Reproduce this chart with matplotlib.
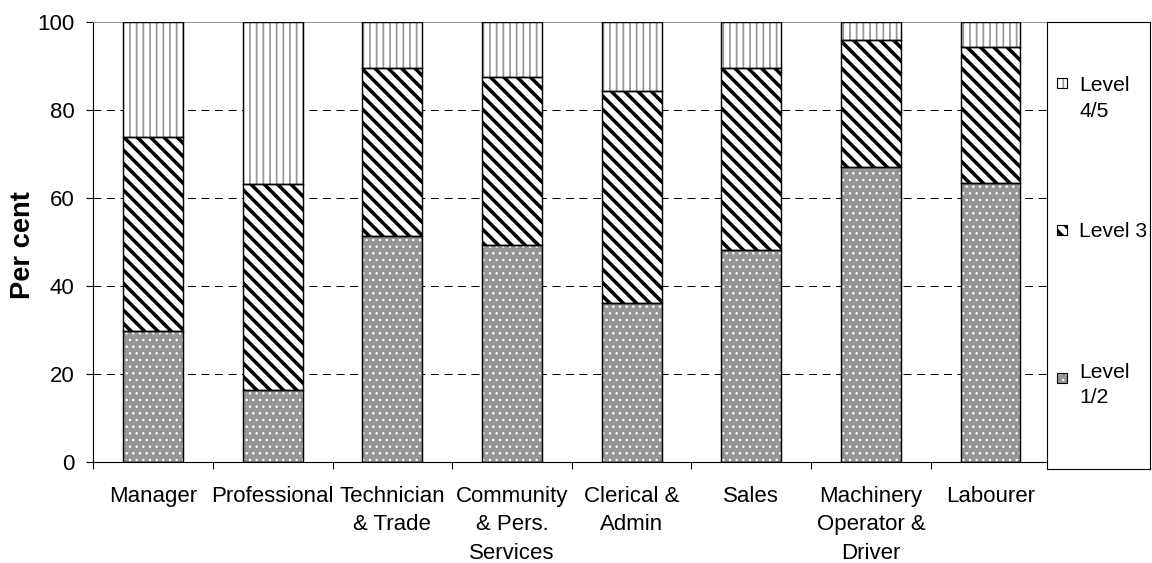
import numpy as np
import matplotlib
matplotlib.use("Agg")
import matplotlib.pyplot as plt
from matplotlib.patches import Rectangle

# =========================
# DADOS
# =========================
ocupacoes = ["Manager", "Professional", "Technician\n& Trade", "Community\n& Pers.\nServices",
             "Clerical &\nAdmin", "Sales", "Machinery\nOperator &\nDriver", "Labourer"]
nivel_12 = [29.7, 16.4, 51.4, 49.4, 36.1, 48.1, 67.0, 63.5]
nivel_3 = [44.2, 46.7, 38.1, 38.1, 48.2, 41.4, 29.0, 30.9]
nivel_45 = [26.1, 36.9, 10.5, 12.5, 15.7, 10.5, 4.0, 5.6]
rotulos = ["Level\n4/5", "Level 3", "Level\n1/2"]
yticks = [0, 20, 40, 60, 80, 100]

# =========================
# ESTILO
# =========================
plt.rcParams['font.family'] = ['Liberation Sans', 'DejaVu Sans']
DPI = 80
W, H = 1152, 563

fig = plt.figure(figsize=(W / DPI, H / DPI), dpi=DPI)
ax = fig.add_axes([93.3 / W, 1 - 462 / H, 957 / W, 440 / H])

x = np.arange(len(ocupacoes))
largura = 0.5

# (cor de fundo, hatch, cor do hatch, espessura do hatch)
estilos = [
    ("#969696", "..", "white", 1.0),
    ("white", "\\\\", "black", 3.2),
    ("white", "||", "#999999", 1.6),
]


def barras(eixo, xs, vals, base, estilo, w):
    cor, hatch, cor_hatch, lw_hatch = estilo
    with plt.rc_context({'hatch.linewidth': lw_hatch}):
        b = eixo.bar(xs, vals, w, bottom=base, color=cor, edgecolor=cor_hatch,
                     linewidth=0, hatch=hatch, zorder=2)
    for p in b:
        if hasattr(p, "set_hatch_linewidth"):
            p.set_hatch_linewidth(lw_hatch)
    eixo.bar(xs, vals, w, bottom=base, fill=False, edgecolor="black",
             linewidth=1.3, zorder=3)


base = np.zeros(len(x))
for vals, est in zip([nivel_12, nivel_3, nivel_45], estilos):
    barras(ax, x, vals, base, est, largura)
    base = base + np.array(vals)

# =========================
# EIXOS
# =========================
ax.set_xlim(-0.5, len(x) - 0.5)
ax.set_ylim(0, 100)
ax.set_yticks(yticks)
ax.set_yticklabels([str(v) for v in yticks])
ax.tick_params(axis="y", direction="out", length=6.3, width=1, pad=10.5, labelsize=20)

ax.set_xticks(np.arange(-0.5, len(x), 1))
ax.set_xticklabels([])
ax.tick_params(axis="x", which="major", direction="out", length=6, width=1)
ax.set_xticks(x, minor=True)
ax.set_xticklabels(ocupacoes, minor=True, fontsize=20, linespacing=1.47)
ax.tick_params(axis="x", which="minor", length=0, pad=21.5)

ax.yaxis.grid(True, linestyle=(0, (8, 5.5)), color="black", linewidth=0.9)
ax.set_axisbelow(True)
ax.get_ygridlines()[-1].set_visible(False)
ax.get_ygridlines()[0].set_visible(False)

for lado in ["left", "bottom"]:
    ax.spines[lado].set_color("black")
    ax.spines[lado].set_linewidth(1)
ax.spines["top"].set_color("#8a8a8a")
ax.spines["right"].set_visible(False)

fig.text(23.5 / W, 1 - 245 / H, "Per cent", rotation=90, ha="center", va="center",
         fontsize=24.5, fontweight="bold")

# =========================
# LEGENDA
# =========================
lax = fig.add_axes([1047 / W, 1 - 469 / H, 103 / W, 447 / H])
lax.set_xlim(0, 103)
lax.set_ylim(447, 0)
lax.set_xticks([])
lax.set_yticks([])
for s in lax.spines.values():
    s.set_linewidth(1)
    s.set_color("black")

pos_marcador = [60.7, 208.0, 356.0]
pos_texto = [94.7, 215.3, 381.3]  # linha de base da última linha
for rot, est, ym, yt in zip(rotulos, estilos[::-1], pos_marcador, pos_texto):
    cor, hatch, cor_hatch, lw_hatch = est
    with plt.rc_context({'hatch.linewidth': lw_hatch}):
        r = Rectangle((10, ym - 5), 10, 10, facecolor=cor, edgecolor=cor_hatch,
                      linewidth=0, hatch=hatch)
    if hasattr(r, "set_hatch_linewidth"):
        r.set_hatch_linewidth(lw_hatch)
    lax.add_patch(r)
    lax.add_patch(Rectangle((10, ym - 5), 10, 10, fill=False, edgecolor="black", linewidth=1))
    lax.text(32, yt, rot, fontsize=19, va="baseline", ha="left", linespacing=1.45)

fig.savefig("out.png", dpi=DPI)
